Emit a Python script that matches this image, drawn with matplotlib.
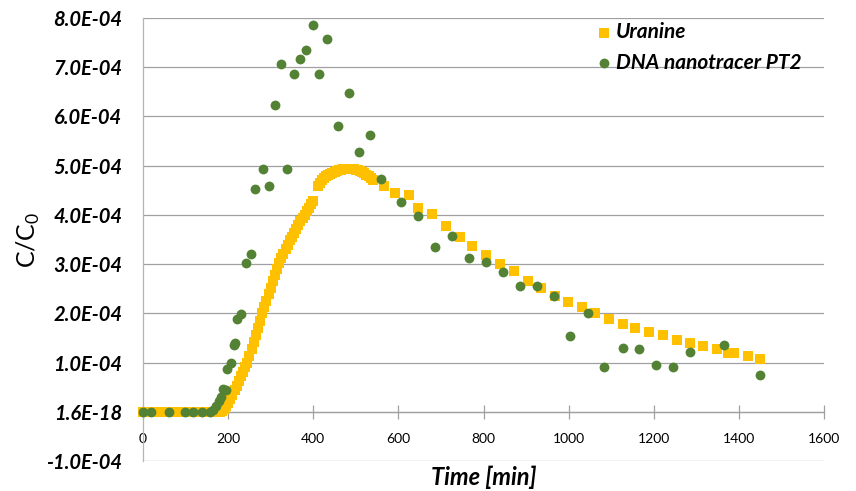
import numpy as np
import matplotlib
matplotlib.use("Agg")
import matplotlib.pyplot as plt

# uranine breakthrough (C/C0 in units of 1e-4)
uranine_t = [0, 10, 20, 30, 40, 50, 60, 70, 80, 90, 100, 110, 120, 130, 140,
             150, 160, 170, 175, 180,
             185, 190, 195, 200, 205, 210, 215, 220, 225, 230, 235, 240, 245,
             250, 255, 260, 265, 270, 275, 280, 285, 290, 295, 300, 305, 310,
             315, 320, 325, 330, 335, 340, 345, 350, 355, 360, 365, 370, 375,
             380, 385, 390, 395, 400,
             410, 415, 420, 425, 430, 435, 440, 445, 450, 455, 460, 465, 470,
             475, 480, 485, 490, 495, 500, 505, 510, 515, 520, 525, 530, 535, 540,
             567, 592, 625, 647, 680, 713, 744, 773, 806, 838, 871, 904, 935,
             967, 998, 1031, 1062, 1094, 1127, 1157, 1189, 1222, 1254, 1286,
             1315, 1348, 1374, 1389, 1421, 1450]
uranine_c = [0] * 20 + [
    0.02, 0.06, 0.12, 0.18, 0.26, 0.35, 0.44, 0.53, 0.62, 0.72, 0.81, 0.90, 1.00,
    1.13, 1.27, 1.42, 1.56, 1.71, 1.85, 2.00, 2.13, 2.26, 2.39, 2.52, 2.65, 2.78,
    2.90, 3.02, 3.12, 3.21, 3.30, 3.39, 3.48, 3.56, 3.64, 3.72, 3.80, 3.87, 3.93,
    4.00, 4.08, 4.15, 4.22, 4.28,
    4.58, 4.64, 4.70, 4.74, 4.78, 4.81, 4.84, 4.86, 4.88, 4.90, 4.91, 4.92, 4.93,
    4.94, 4.94, 4.94, 4.94, 4.93, 4.92, 4.91, 4.89, 4.87, 4.85, 4.82, 4.79, 4.75, 4.71,
    4.59, 4.44, 4.40, 4.14, 4.02, 3.78, 3.55, 3.36, 3.19, 3.01, 2.86, 2.66, 2.51,
    2.35, 2.23, 2.13, 2.01, 1.88, 1.78, 1.71, 1.62, 1.56, 1.45, 1.39,
    1.34, 1.28, 1.20, 1.20, 1.14, 1.08]

# DNA nanotracer PT2
dna_t = [0, 19, 60, 99, 118, 138, 158, 165, 172, 178, 183, 187, 195, 198, 206,
         213, 217, 222, 231, 242, 253, 264, 281, 295, 309, 324, 339, 354, 369,
         384, 399, 413, 433, 458, 483, 508, 533, 559, 607, 647, 687, 727, 767,
         807, 846, 886, 925, 966, 1004, 1045, 1084, 1127, 1166, 1206, 1246,
         1286, 1365, 1449]
dna_c = [0, 0, 0, 0, 0, 0, 0, 0.04, 0.12, 0.22, 0.30, 0.46, 0.45, 0.86, 0.99,
         1.36, 1.39, 1.88, 1.99, 3.02, 3.20, 4.53, 4.93, 4.59, 6.24, 7.06, 4.93,
         6.87, 7.16, 7.34, 7.85, 6.87, 7.57, 5.80, 6.47, 5.28, 5.62, 4.72, 4.27,
         3.98, 3.35, 3.57, 3.13, 3.04, 2.83, 2.55, 2.55, 2.35, 1.53, 2.01, 0.91,
         1.29, 1.27, 0.95, 0.91, 1.21, 1.36, 0.74]

y_ticks = [-1e-4, 0, 1e-4, 2e-4, 3e-4, 4e-4, 5e-4, 6e-4, 7e-4, 8e-4]
y_ticklabels = ["-1.0E-04", "1.6E-18", "1.0E-04", "2.0E-04", "3.0E-04",
                "4.0E-04", "5.0E-04", "6.0E-04", "7.0E-04", "8.0E-04"]
x_ticks = [0, 200, 400, 600, 800, 1000, 1200, 1400, 1600]

plt.rcParams["font.family"] = ["Lato", "DejaVu Sans"]

fig = plt.figure(figsize=(8.56, 4.91), dpi=100)
ax = fig.add_axes([143 / 856, 1 - 461 / 491, (824 - 143) / 856, (461 - 18) / 491])

ax.set_xlim(0, 1600)
ax.set_ylim(-1e-4, 8e-4)

ax.scatter(uranine_t, np.array(uranine_c) * 1e-4, marker="s", s=52,
           color="#FFC000", linewidths=0, label="Uranine", zorder=3, clip_on=False)
ax.scatter(dna_t, np.array(dna_c) * 1e-4, marker="o", s=50,
           color="#548235", linewidths=0, label="DNA nanotracer PT2", zorder=4,
           clip_on=False)

ax.set_yticks(y_ticks)
ax.set_yticklabels(y_ticklabels, fontsize=14.5, fontweight="bold", style="italic")
ax.set_xticks(x_ticks)
ax.set_xticklabels([str(x) for x in x_ticks], fontsize=15, style="italic")

ax.grid(axis="y", color="#A0A0A0", linewidth=0.9, zorder=0)
ax.set_axisbelow(True)

for side in ["top", "right"]:
    ax.spines[side].set_visible(False)
ax.spines["left"].set_color("#B5B5B5")
ax.spines["left"].set_linewidth(0.9)
ax.spines["bottom"].set_position(("data", 0))
ax.spines["bottom"].set_color("#A0A0A0")
ax.spines["bottom"].set_linewidth(0.9)

ax.tick_params(axis="y", length=0, pad=15)
ax.tick_params(axis="x", direction="inout", length=10, width=0.9,
               color="#A0A0A0", pad=10)

ax.set_xlabel("Time [min]", fontsize=17, fontweight="bold", style="italic")
ax.xaxis.set_label_coords(0.5, -0.01)
ax.set_ylabel(r"C/C$_\mathregular{0}$", fontsize=18)
ax.yaxis.set_label_coords(-0.148, 0.5)

leg = ax.legend(loc="upper left", bbox_to_anchor=(585 / 856, 1 - 14 / 491),
                bbox_transform=fig.transFigure, frameon=False,
                prop={"size": 15, "weight": "bold", "style": "italic"},
                handletextpad=0.1, labelspacing=0.5, borderaxespad=0,
                handlelength=1.0, scatterpoints=1)

fig.savefig("out.png", dpi=100)
